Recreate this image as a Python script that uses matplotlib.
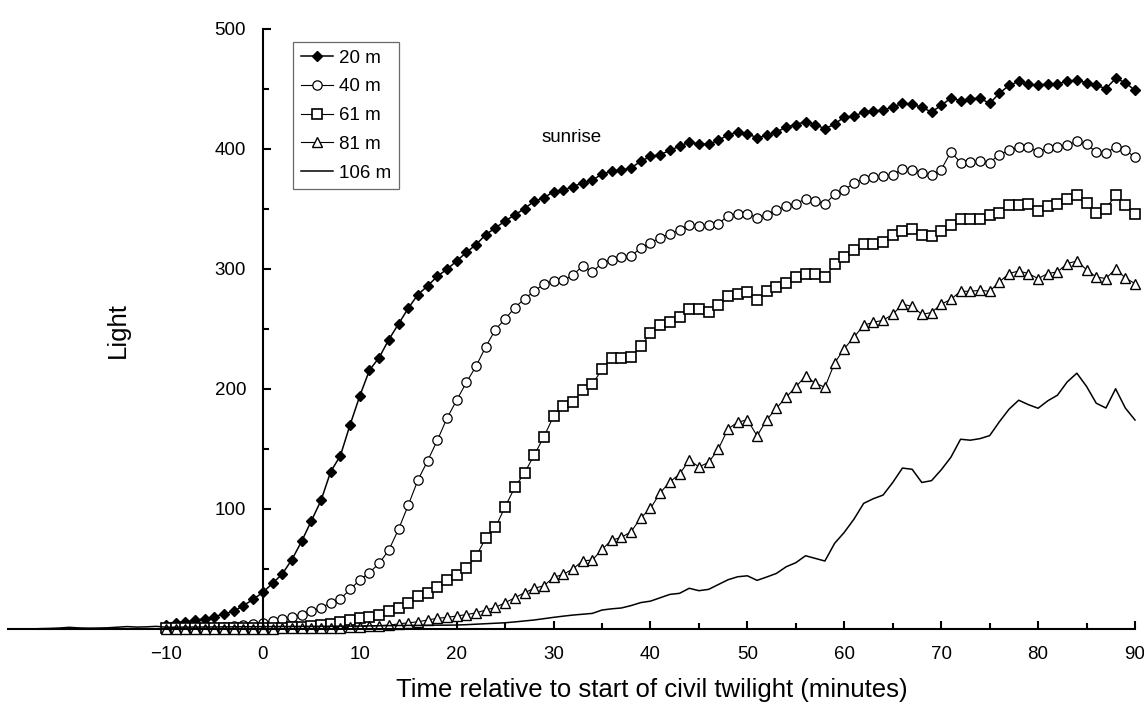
import numpy as np
import matplotlib
matplotlib.use("Agg")
import matplotlib.pyplot as plt

plt.rcParams["font.family"] = ["Liberation Sans", "DejaVu Sans"]

# minutes relative to start of civil twilight
minutes = list(range(-10, 91))
minutes_106 = list(range(-26, 91))

light_20 = [
    3.5, 5.0, 6.0, 7.2, 8.5, 10.3, 12.5, 14.8, 19.5, 24.7,
    30.5, 38.0, 45.8, 57.8, 73.0, 90.0, 107.0, 131.0, 144.3, 170.0,
    194.0, 215.5, 226.0, 241.0, 254.0, 267.0, 278.5, 285.6, 293.7, 299.5,
    306.4, 313.6, 320.0, 328.4, 334.0, 339.7, 344.8, 350.0, 356.2, 359.0,
    364.2, 365.5, 368.3, 371.5, 373.5, 379.0, 381.0, 382.0, 384.0, 389.4,
    393.5, 395.0, 398.5, 402.0, 405.4, 404.0, 403.5, 406.8, 411.5, 413.7,
    412.4, 409.0, 411.0, 413.7, 418.0, 420.0, 422.5, 420.0, 416.6, 420.3,
    426.4, 427.0, 430.4, 431.2, 432.2, 434.5, 437.8, 436.8, 434.5, 430.4,
    436.0, 442.0, 440.0, 441.5, 442.0, 437.6, 446.0, 452.6, 456.0, 453.4,
    452.6, 454.0, 454.0, 456.0, 456.8, 455.0, 452.6, 450.0, 458.4, 455.0,
    448.4,
]

light_40 = [
    0.8, 1.0, 1.1, 1.2, 1.4, 1.6, 1.9, 2.5, 3.3, 3.9,
    5.2, 6.9, 8.0, 9.7, 11.9, 15.0, 17.5, 21.9, 25.0, 33.0,
    40.8, 47.0, 54.6, 65.7, 83.0, 103.0, 124.0, 140.0, 157.0, 175.5,
    190.5, 205.3, 218.8, 235.0, 249.3, 258.2, 267.5, 275.0, 281.2, 287.3,
    289.6, 290.3, 294.5, 302.5, 297.3, 304.7, 307.6, 309.8, 310.6, 317.2,
    321.4, 325.9, 329.2, 332.0, 336.7, 335.9, 336.1, 337.5, 343.9, 345.8,
    345.8, 342.5, 345.0, 349.2, 352.0, 354.2, 358.0, 356.0, 353.8, 361.9,
    365.9, 371.0, 375.0, 376.0, 377.3, 378.0, 383.3, 382.5, 380.0, 377.7,
    382.5, 397.2, 388.4, 389.0, 389.5, 388.4, 395.0, 398.5, 401.3, 401.3,
    397.2, 400.5, 401.3, 403.3, 406.0, 403.5, 397.2, 396.4, 401.3, 398.5,
    393.0,
]

light_61 = [
    0.5, 0.5, 0.5, 0.5, 0.5, 0.5, 0.6, 0.6, 0.7, 0.7,
    0.8, 1.0, 1.2, 1.5, 1.8, 2.3, 3.0, 4.3, 6.0, 7.5,
    8.9, 10.2, 11.5, 14.7, 17.6, 21.4, 27.2, 30.3, 35.0, 41.0,
    45.0, 51.0, 60.4, 75.8, 84.6, 101.8, 117.9, 130.0, 144.8, 160.0,
    177.2, 185.7, 188.7, 199.4, 203.8, 216.2, 225.8, 225.8, 226.5, 235.4,
    246.3, 252.9, 255.7, 259.8, 266.8, 266.8, 264.0, 269.6, 277.0, 279.3,
    280.6, 273.7, 281.2, 284.8, 288.1, 293.0, 295.3, 295.3, 292.8, 303.5,
    309.5, 315.3, 320.3, 320.3, 322.2, 327.8, 331.4, 333.4, 327.8, 327.2,
    331.4, 336.7, 341.1, 341.1, 341.1, 344.4, 346.4, 352.7, 352.7, 353.6,
    348.0, 351.9, 354.2, 358.3, 361.1, 355.0, 346.7, 350.0, 361.1, 352.7,
    345.8,
]

light_81 = [
    0.3, 0.3, 0.3, 0.3, 0.3, 0.3, 0.3, 0.3, 0.3, 0.3,
    0.3, 0.4, 0.5, 0.6, 0.7, 0.8, 0.9, 1.0, 1.2, 1.4,
    1.9, 2.5, 2.8, 3.3, 4.2, 5.2, 6.0, 7.5, 8.9, 9.7,
    10.8, 12.0, 13.4, 15.8, 18.0, 21.9, 26.0, 30.2, 33.9, 36.0,
    43.0, 45.5, 50.0, 56.8, 57.4, 66.3, 74.0, 76.3, 81.0, 92.6,
    100.4, 113.4, 122.5, 129.0, 140.6, 135.0, 138.7, 149.8, 166.6, 172.2,
    174.2, 160.8, 174.2, 183.9, 193.0, 201.6, 210.6, 204.7, 201.3, 221.5,
    233.5, 243.0, 252.9, 255.4, 257.0, 262.0, 270.4, 268.7, 262.0, 263.5,
    270.4, 274.5, 281.2, 281.2, 282.0, 281.2, 289.0, 296.0, 298.1, 296.0,
    291.8, 296.0, 297.3, 304.3, 306.4, 299.2, 293.1, 291.8, 300.0, 292.3,
    287.6,
]

light_106 = [
    0.0, 0.0, 0.0, 0.3, 0.5, 0.8, 1.4, 0.9, 0.7, 0.8,
    1.0, 1.5, 2.0, 1.6, 1.8, 2.2,
    1.5, 1.5, 1.6, 1.6, 1.7, 1.7, 1.8, 1.8, 1.9, 1.9,
    2.0, 2.0, 2.1, 2.1, 2.2, 2.2, 2.3, 2.3, 2.4, 2.4,
    2.5, 2.6, 2.7, 2.8, 2.9, 3.0, 3.0, 3.1, 3.2, 3.2,
    3.3, 3.6, 4.0, 4.4, 4.8, 5.2, 5.9, 6.7, 7.5, 8.6,
    9.7, 10.7, 11.6, 12.3, 13.0, 15.8, 16.8, 17.5, 19.5, 22.0,
    23.2, 26.0, 28.8, 29.7, 33.9, 31.9, 33.0, 37.0, 41.0, 43.5,
    44.3, 40.5, 43.3, 46.3, 51.8, 55.2, 61.0, 58.8, 56.6, 71.3,
    80.5, 91.5, 104.6, 108.5, 111.5, 122.0, 134.0, 133.0, 122.0, 123.5,
    132.5, 143.0, 158.0, 157.2, 158.5, 161.0, 172.5, 183.0, 190.5, 186.8,
    183.8, 190.0, 194.7, 205.7, 213.0, 202.0, 188.0, 184.0, 200.0, 184.0,
    174.0,
]

fig = plt.figure(figsize=(11.44, 7.04), dpi=100)
ax = fig.add_axes([8 / 1144, 75 / 704, 1127 / 1144, 600.5 / 704])

ax.plot(minutes, light_20, color="black", lw=1.1, marker="D", ms=5.2,
        mfc="black", mec="black", label="20 m", clip_on=False)
ax.plot(minutes, light_40, color="black", lw=0.8, marker="o", ms=6.7,
        mfc="white", mec="black", mew=0.9, label="40 m", clip_on=False)
ax.plot(minutes, light_61, color="black", lw=0.8, marker="s", ms=7.0,
        mfc="white", mec="black", mew=1.2, label="61 m", clip_on=False)
ax.plot(minutes, light_81, color="black", lw=0.8, marker="^", ms=7.8,
        mfc="white", mec="black", mew=1.0, label="81 m", clip_on=False)
ax.plot(minutes_106, light_106, color="black", lw=1.1, label="106 m",
        clip_on=False)

ax.set_xlim(-26.3, 90)
ax.set_ylim(0, 500)

# axes cross at the origin, no box
ax.spines["left"].set_position(("data", 0))
ax.spines["top"].set_visible(False)
ax.spines["right"].set_visible(False)
for side in ("left", "bottom"):
    ax.spines[side].set_linewidth(1.5)

ax.set_xticks(range(-10, 91, 10))
ax.set_xticks(range(-5, 90, 10), minor=True)
ax.set_yticks(range(100, 501, 100))
ax.set_yticks(range(50, 500, 100), minor=True)
ax.tick_params(axis="both", which="both", direction="in", width=1.5,
               labelsize=13.5)
ax.tick_params(axis="both", which="major", length=6)
ax.tick_params(axis="both", which="minor", length=4.5)
ax.tick_params(axis="x", pad=12)
ax.tick_params(axis="y", pad=12)

ax.text(31.9, 409, "sunrise", fontsize=13.5, ha="center", va="center")

leg = ax.legend(loc="upper left", bbox_to_anchor=(0.253, 0.9775),
                borderaxespad=0, fancybox=False, fontsize=13.5,
                handlelength=1.75, handletextpad=0.3, labelspacing=0.62,
                borderpad=0.4)
leg.get_frame().set_edgecolor("#444444")
leg.get_frame().set_linewidth(0.9)

fig.text(118 / 1144, 1 - 330 / 704, "Light", rotation=90, fontsize=18.5,
         ha="center", va="center")
fig.text(652 / 1144, 1 - 690 / 704,
         "Time relative to start of civil twilight (minutes)", fontsize=18.5,
         ha="center", va="center")

fig.savefig("out.png", dpi=100)
